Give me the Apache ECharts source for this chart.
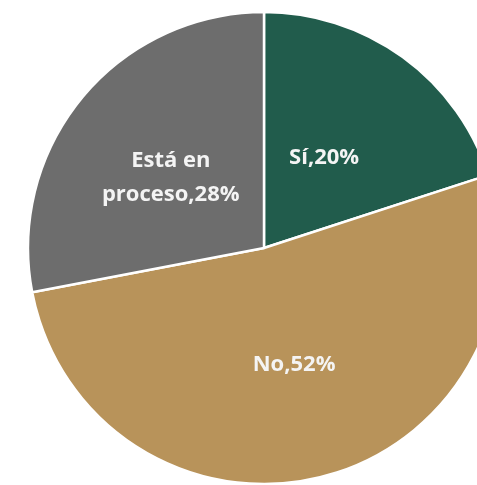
<!DOCTYPE html>
<html>
<head>
<meta charset="utf-8">
<script src="https://cdn.jsdelivr.net/npm/echarts@6/dist/echarts.min.js"></script>
<style>
  html, body { margin: 0; padding: 0; background: #ffffff; }
  #chart { width: 477px; height: 485px; }
</style>
</head>
<body>
<div id="chart"></div>
<script>
// Respuestas y porcentajes
const categories = ['Sí', 'No', 'Está en proceso'];
const values = [20, 52, 28];
const sliceColors = ['#215c4c', '#b8935a', '#6d6d6d'];

const chart = echarts.init(document.getElementById('chart'), null, { renderer: 'canvas' });

// small nudges of the inside labels so they sit comfortably in each slice
const labelNudge = { 'Sí': [-11, 8], 'No': [0, 0], 'Está en proceso': [0, 7] };

const data = categories.map((name, i) => ({
  name: name,
  value: values[i],
  itemStyle: { color: sliceColors[i] },
  label: { offset: labelNudge[name] }
}));

chart.setOption({
  animation: false,
  series: [{
    type: 'pie',
    center: [264, 248],
    radius: 236,
    startAngle: 90,
    clockwise: true,
    data: data,
    itemStyle: {
      borderColor: '#ffffff',
      borderWidth: 2.5
    },
    label: {
      show: true,
      position: 'inside',
      color: '#f4f4f4',
      fontFamily: 'Open Sans',
      fontWeight: 'bold',
      fontSize: 22,
      lineHeight: 34,
      formatter: function (p) {
        const name = p.name === 'Está en proceso' ? 'Está en\nproceso' : p.name;
        return name + ',' + p.value + '%';
      }
    },
    labelLine: { show: false },
    emphasis: { disabled: true }
  }]
});
</script>
</body>
</html>
